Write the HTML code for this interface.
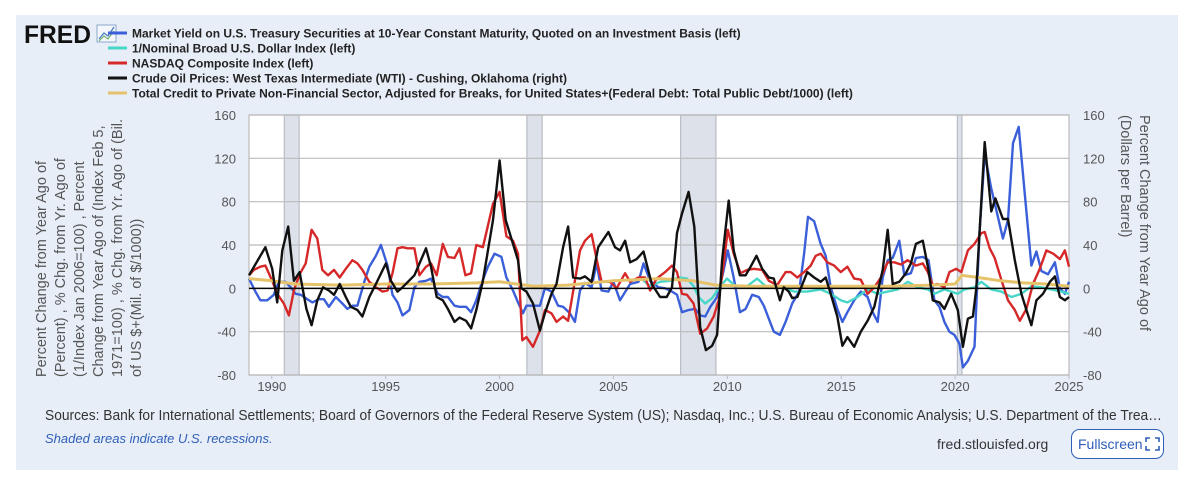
<!DOCTYPE html>
<html><head><meta charset="utf-8"><style>
body{margin:0;width:1200px;height:477px;background:#fff;font-family:"Liberation Sans",sans-serif;overflow:hidden}
#panel{position:absolute;left:16px;top:15px;width:1162px;height:455px;background:#e8eef8}
svg{position:absolute;left:0;top:0}
</style></head><body>
<div id="panel"></div>
<svg id="chart" width="1200" height="477">
<text x="24" y="43" font-size="25" font-weight="bold" fill="#111" textLength="67" lengthAdjust="spacingAndGlyphs" font-family="Liberation Sans,sans-serif">FRED</text>
<g><rect x="97" y="25" width="19" height="17" fill="#f4f7fb" stroke="#8aa8cc"/><polyline points="99,39 104,33 108,36 114,27" fill="none" stroke="#4a7cc0" stroke-width="1.3"/><polyline points="99,41 104,36 108,39 114,31" fill="none" stroke="#6fae6f" stroke-width="1.1"/></g>
<g id="legend" font-size="12" font-weight="bold" fill="#222"></g>
<g id="plot"></g>
<g font-size="14.5" fill="#555">
<text transform="translate(46,377) rotate(-90)">Percent Change from Year Ago of</text>
<text transform="translate(65,377) rotate(-90)">(Percent) , % Chg. from Yr. Ago of</text>
<text transform="translate(84,377) rotate(-90)">(1/Index Jan 2006=100) , Percent</text>
<text transform="translate(103,377) rotate(-90)">Change from Year Ago of (Index Feb 5,</text>
<text transform="translate(122,377) rotate(-90)">1971=100) , % Chg. from Yr. Ago of (Bil.</text>
<text transform="translate(141,377) rotate(-90)">of US $+(Mil. of $/1000))</text>
</g>
<g font-size="14.5" fill="#555">
<text transform="translate(1140,115) rotate(90)">Percent Change from Year Ago of</text>
<text transform="translate(1121,115) rotate(90)">(Dollars per Barrel)</text>
</g>
<text x="45" y="420" font-size="14.5" fill="#333" textLength="1117" lengthAdjust="spacingAndGlyphs">Sources: Bank for International Settlements; Board of Governors of the Federal Reserve System (US); Nasdaq, Inc.; U.S. Bureau of Economic Analysis; U.S. Department of the Trea…</text>
<text x="45" y="443" font-size="13" font-style="italic" fill="#2e5fb8">Shaded areas indicate U.S. recessions.</text>
<text x="937" y="449" font-size="14" fill="#333">fred.stlouisfed.org</text>
<g>
<rect x="1071.5" y="429.5" width="92" height="29" rx="8" fill="#fff" stroke="#2e5fb8"/>
<text x="1078" y="449" font-size="14" fill="#2e5fb8">Fullscreen</text>
<path d="M1146 442v-4h4M1155 438h4v4M1159 446v4h-4M1150 450h-4v-4" fill="none" stroke="#2e5fb8" stroke-width="1.6"/>
</g>
</svg>
<script>
const yTicks=[160,120,80,40,0,-40,-80];
const xTicks=[1990,1995,2000,2005,2010,2015,2020,2025];
const recessions=[[1990.55,1991.2],[2001.2,2001.87],[2007.95,2009.5],[2020.1,2020.3]];
const legendLabels=["Market Yield on U.S. Treasury Securities at 10-Year Constant Maturity, Quoted on an Investment Basis (left)","1/Nominal Broad U.S. Dollar Index (left)","NASDAQ Composite Index (left)","Crude Oil Prices: West Texas Intermediate (WTI) - Cushing, Oklahoma (right)","Total Credit to Private Non-Financial Sector, Adjusted for Breaks, for United States+(Federal Debt: Total Public Debt/1000) (left)"];
const blueDates=[1989.0,1989.28,1989.5,1989.8,1990.09,1990.31,1990.6,1990.83,1991.05,1991.27,1991.56,1991.78,1992.07,1992.29,1992.51,1992.81,1993.1,1993.32,1993.54,1993.76,1994.06,1994.28,1994.57,1994.79,1995.08,1995.3,1995.52,1995.74,1996.04,1996.26,1996.48,1996.77,1996.99,1997.29,1997.51,1997.73,1998.02,1998.24,1998.53,1998.75,1998.98,1999.2,1999.49,1999.78,2000.08,2000.3,2000.59,2000.81,2001.03,2001.18,2001.47,2001.77,2001.99,2002.28,2002.57,2002.79,2003.09,2003.31,2003.53,2003.75,2004.04,2004.26,2004.48,2004.78,2005.0,2005.29,2005.73,2006.1,2006.32,2006.61,2006.98,2007.27,2007.57,2007.79,2008.01,2008.3,2008.59,2008.81,2009.03,2009.25,2009.55,2009.81,2010.02,2010.28,2010.55,2010.8,2011.09,2011.38,2011.6,2011.82,2012.04,2012.31,2012.56,2012.85,2013.15,2013.37,2013.54,2013.81,2014.1,2014.32,2014.54,2014.83,2015.05,2015.27,2015.57,2015.86,2016.16,2016.38,2016.6,2016.82,2017.04,2017.26,2017.55,2017.77,2018.06,2018.28,2018.58,2018.83,2019.09,2019.31,2019.53,2019.75,2019.97,2020.19,2020.34,2020.56,2020.85,2021.07,2021.3,2021.59,2021.88,2022.1,2022.32,2022.54,2022.79,2023.06,2023.35,2023.57,2023.79,2024.08,2024.38,2024.6,2024.82,2025.0];
const blueValues=[9,-3,-11,-11,-6,6,6,1,-5,-6,-10,-13,-10,-10,-17,-8,-14,-19,-16,-16,6,20,30,40,21,-6,-13,-25,-20,1,6,7,9,-5,-8,-8,-16,-17,-17,-22,-11,4,20,32,29,10,-2,-13,-23,-16,-16,-16,0,-3,-16,-17,-23,-31,-2,5,1,23,-2,-3,6,-11,4,6,23,7,1,0,-3,-6,-22,-20,-19,-25,-26,-17,-8,14,35,10,-22,-19,-6,-8,-16,-28,-40,-43,-31,-14,-3,32,66,62,41,30,1,-19,-31,-22,-11,-3,-8,-22,-31,10,26,28,44,12,14,28,29,26,-11,-17,-31,-40,-43,-51,-73,-67,-54,51,124,92,66,46,63,134,149,87,21,34,16,13,24,0,-5,6];
const tealDates=[2006.17,2006.61,2007.05,2007.49,2007.86,2008.23,2008.52,2008.74,2009.03,2009.33,2009.69,2009.99,2010.36,2010.87,2011.31,2011.68,2012.04,2012.48,2012.93,2013.51,2014.1,2014.54,2014.98,2015.27,2015.71,2016.16,2016.6,2017.04,2017.48,2017.92,2018.36,2018.8,2019.09,2019.53,2020.12,2020.41,2020.85,2021.15,2021.59,2022.03,2022.47,2022.91,2023.35,2023.79,2024.23,2024.67,2025.0];
const tealValues=[10,2,6,7,10,9,2,-8,-14,-9,2,9,2,2,9,2,2,1,-3,-3,-1,-5,-11,-13,-8,-1,-5,-3,-1,6,1,-1,-5,-1,-5,-1,1,6,-1,-3,-8,-5,2,1,-1,-3,-5];
const redDates=[1989.0,1989.21,1989.5,1989.72,1990.02,1990.24,1990.53,1990.75,1990.97,1991.22,1991.49,1991.75,1992.0,1992.22,1992.47,1992.73,1992.98,1993.25,1993.54,1993.76,1993.98,1994.28,1994.57,1994.86,1995.08,1995.3,1995.52,1995.74,1995.96,1996.26,1996.48,1996.77,1996.99,1997.24,1997.51,1997.73,1998.02,1998.24,1998.5,1998.75,1998.98,1999.27,1999.71,2000.0,2000.3,2000.59,2000.81,2001.0,2001.18,2001.47,2001.77,2001.99,2002.28,2002.5,2002.79,2003.01,2003.23,2003.53,2003.75,2004.04,2004.26,2004.48,2004.85,2005.14,2005.51,2005.73,2006.1,2006.39,2006.61,2006.9,2007.27,2007.57,2007.79,2008.01,2008.23,2008.52,2008.81,2009.11,2009.4,2009.62,2009.84,2010.02,2010.28,2010.58,2010.87,2011.16,2011.53,2011.82,2012.19,2012.56,2012.78,2013.07,2013.37,2013.66,2013.88,2014.1,2014.39,2014.69,2014.98,2015.27,2015.57,2015.86,2016.16,2016.45,2016.74,2017.04,2017.33,2017.62,2017.92,2018.28,2018.58,2018.8,2019.02,2019.24,2019.53,2019.75,2020.05,2020.27,2020.56,2020.85,2021.15,2021.3,2021.52,2021.74,2022.03,2022.32,2022.62,2022.84,2023.13,2023.42,2023.72,2024.01,2024.31,2024.6,2024.82,2025.0];
const redValues=[12,17,20,21,7,-5,-14,-25,-2,13,23,54,46,17,12,17,10,18,26,23,17,6,1,-3,-2,14,37,38,37,37,12,20,23,12,41,29,28,37,12,14,40,38,78,89,48,44,32,-48,-45,-54,-39,-20,-23,-31,-26,-30,-3,35,44,50,27,6,6,0,14,6,10,10,-2,9,15,21,15,-5,-6,-14,-42,-37,-26,-11,23,54,32,14,17,18,17,7,3,15,15,10,15,21,30,32,24,21,15,20,9,8,-5,1,10,24,24,22,26,21,23,15,3,4,1,15,18,15,35,41,51,52,37,28,8,-11,-20,-30,-19,4,18,35,32,27,35,20];
const oilDates=[1989.0,1989.72,1990.02,1990.24,1990.46,1990.72,1990.97,1991.22,1991.52,1991.75,1992.0,1992.25,1992.51,1992.73,1992.98,1993.25,1993.47,1993.76,1993.98,1994.28,1994.57,1995.01,1995.23,1995.52,1995.74,1996.26,1996.77,1996.99,1997.24,1997.51,1997.73,1998.02,1998.24,1998.53,1998.75,1998.98,1999.27,1999.71,2000.0,2000.27,2000.59,2000.81,2000.96,2001.18,2001.47,2001.77,2001.99,2002.28,2002.5,2002.79,2003.01,2003.23,2003.53,2003.75,2004.04,2004.33,2004.78,2005.07,2005.29,2005.51,2005.73,2006.02,2006.32,2006.68,2007.05,2007.34,2007.57,2007.79,2008.01,2008.3,2008.55,2008.81,2009.06,2009.33,2009.55,2009.77,2010.06,2010.28,2010.55,2010.8,2011.02,2011.28,2011.53,2011.82,2012.04,2012.31,2012.48,2012.7,2012.85,2013.07,2013.51,2013.81,2014.1,2014.32,2014.54,2014.83,2015.05,2015.27,2015.57,2015.86,2016.16,2016.45,2016.82,2017.04,2017.26,2017.55,2017.84,2018.06,2018.28,2018.58,2018.83,2019.02,2019.31,2019.53,2019.83,2020.12,2020.34,2020.56,2020.78,2020.93,2021.07,2021.3,2021.59,2021.77,2022.1,2022.32,2022.62,2022.91,2023.13,2023.35,2023.57,2023.86,2024.16,2024.38,2024.6,2024.82,2025.0];
const oilValues=[12,38,18,-13,35,57,7,15,-19,-34,-11,1,-2,-6,4,-8,-17,-20,-26,-8,4,23,7,-3,1,12,37,20,-8,-11,-19,-31,-27,-30,-37,-20,7,63,118,63,41,26,0,-3,-14,-39,-23,-5,4,38,57,10,9,11,6,38,52,38,35,44,24,27,34,4,-8,-8,1,51,69,89,57,-36,-57,-53,-43,26,81,35,12,12,20,30,18,10,9,-11,1,-3,-9,-8,15,10,6,10,-5,-26,-53,-45,-54,-40,-30,-17,17,54,4,6,14,23,41,44,17,-11,-13,-19,-5,-20,-54,-28,-26,0,51,135,71,83,64,64,26,-5,-20,-34,-11,-5,6,11,-8,-11,-8];
const creditDates=[1989,1990,1991,1993,1995,1997,1999,2000,2001.5,2003,2005,2007,2008.5,2009.5,2011,2014,2017,2019,2020,2020.3,2021,2022,2023,2024,2025];
const creditValues=[9,7,4,3,4,4,5,6,2,3,7,9,7,3,2,2,2,3,4,12,10,7,5,4,2];

const NS='http://www.w3.org/2000/svg';
const L=249,R=1069,T=115,B=375,X0=1989.0,X1=2025.0,Y0=-80,Y1=160;
const xs=v=>L+(v-X0)/(X1-X0)*(R-L);
const ys=v=>B-(v-Y0)/(Y1-Y0)*(B-T);
function mk(tag,attrs,parent){const e=document.createElementNS(NS,tag);for(const k in attrs)e.setAttribute(k,attrs[k]);parent.appendChild(e);return e;}
const plot=document.getElementById('plot');
const bg=mk('rect',{x:L,y:T,width:R-L,height:B-T,fill:'#fff'},plot);


recessions.forEach(r=>{const e=mk('rect',{x:xs(r[0]),y:T,width:Math.max(3,xs(r[1])-xs(r[0])),height:B-T,fill:'#dde2ea',stroke:'#b8bcc4','stroke-width':1.2},plot);

});
yTicks.forEach(t=>{if(t!==0){const g=mk('line',{x1:L,x2:R,y1:ys(t),y2:ys(t),stroke:'#bbb','stroke-width':1.2},plot);

}
const a=mk('text',{x:236,y:ys(t)+5,'text-anchor':'end','font-size':13,fill:'#555'},plot);a.textContent=t;


const b=mk('text',{x:1083,y:ys(t)+5,'font-size':13,fill:'#555'},plot);b.textContent=t;

});
xTicks.forEach(t=>{const a=mk('text',{x:xs(t),y:391,'text-anchor':'middle','font-size':13,fill:'#555'},plot);a.textContent=t;


const k=mk('line',{x1:xs(t),x2:xs(t),y1:B,y2:B+4,stroke:'#bbb'},plot);

});
const frame=mk('rect',{x:L,y:T,width:R-L,height:B-T,fill:'none',stroke:'#bbb','stroke-width':1.2},plot);


const series=[[blueDates,blueValues,'#3a5fd9','series-treasury-yield'],[tealDates,tealValues,'#47d6c7','series-dollar-index'],[redDates,redValues,'#d62828','series-nasdaq'],[creditDates,creditValues,'#e6c36a','series-total-credit'],[oilDates,oilValues,'#111','series-wti-oil']];
series.forEach(s=>{const pts=s[0].map((d,i)=>xs(d).toFixed(1)+','+ys(s[1][i]).toFixed(1)).join(' ');
const p=mk('polyline',{points:pts,fill:'none',stroke:s[2],'stroke-width':s[3]==='series-total-credit'?3:2.4,'stroke-linejoin':'round'},plot);

});
const zl=mk('line',{x1:L,x2:R,y1:ys(0),y2:ys(0),stroke:'#000','stroke-width':1.5},plot);


const lg=document.getElementById('legend');
const lc=['#3a5fd9','#47d6c7','#d62828','#111','#e6c36a'];
legendLabels.forEach((t,i)=>{const y=33+i*15;
const g=mk('g',{},lg);


mk('line',{x1:108,x2:127,y1:y,y2:y,stroke:lc[i],'stroke-width':3},g);
const tx=mk('text',{x:132,y:y+4.5},g);tx.textContent=t;});
</script>
</body></html>
